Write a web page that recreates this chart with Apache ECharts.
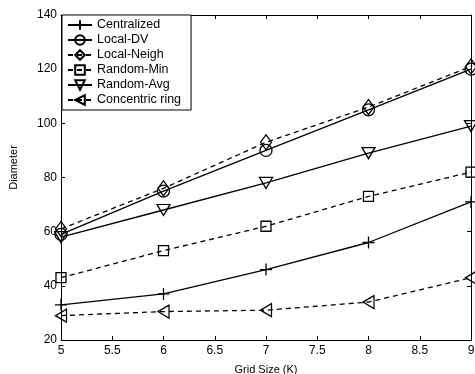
<!DOCTYPE html>
<html>
<head>
<meta charset="utf-8">
<script src="https://cdn.jsdelivr.net/npm/echarts@6/dist/echarts.min.js"></script>
<style>
  html, body { margin: 0; padding: 0; background: #fff; }
  #chart { width: 475px; height: 374px; }
</style>
</head>
<body>
<div id="chart"></div>
<script>
// Grid sizes (K)
const gridSizes = [5, 6, 7, 8, 9];

// Diameter per method
const centralized = [33, 37, 46, 56, 71];
const localDV = [59, 75, 90, 105, 120];
const localNeigh = [61, 76, 93, 106, 121];
const randomMin = [43, 53, 62, 73, 82];
const randomAvg = [58, 68, 78, 89, 99];
const concentricRing = [29, 30.5, 31, 34, 43];

const FONT = "Liberation Sans, Arial, sans-serif";

const symbols = {
  plus: "path://M5,0L5,10M0,5L10,5",
  diamond: "path://M5,0L10,7L5,14L0,7Z",
  triDown: "path://M0,0L12,0L6,10Z",
  triLeft: "path://M10,0L10,12L0,6Z",
};

function mkSeries(name, values, symbol, size, dashed) {
  return {
    name: name,
    type: "line",
    data: gridSizes.map((x, i) => [x, values[i]]),
    symbol: symbol,
    symbolSize: size,
    lineStyle: { color: "#000", width: 1.3, type: dashed ? [5, 4] : "solid" },
    itemStyle: { color: "transparent", borderColor: "#000", borderWidth: 1.3 },
    emphasis: { disabled: true },
    animation: false,
  };
}

const chart = echarts.init(document.getElementById("chart"));

const tickStyle = { inside: true, length: 4, lineStyle: { color: "#000" } };

chart.setOption({
  textStyle: { fontFamily: FONT },
  grid: { left: 61, right: 4, top: 15, bottom: 34, outerBoundsMode: "none", containLabel: false },
  legend: {
    orient: "vertical",
    left: 62,
    top: 15,
    backgroundColor: "#fff",
    borderColor: "#000",
    borderWidth: 1,
    borderRadius: 0,
    padding: [3, 10, 3, 5],
    itemGap: 1,
    itemWidth: 24,
    itemHeight: 12,
    textStyle: { fontFamily: FONT, fontSize: 12.5, color: "#000", lineHeight: 14 },
    data: ["Centralized", "Local-DV", "Local-Neigh", "Random-Min", "Random-Avg", "Concentric ring"],
  },
  xAxis: [
    {
      type: "value",
      min: 5,
      max: 9,
      interval: 0.5,
      name: "Grid Size (K)",
      nameLocation: "middle",
      nameGap: 24,
      nameTextStyle: { fontFamily: FONT, fontSize: 11, color: "#000" },
      axisLine: { lineStyle: { color: "#000", width: 1 } },
      axisTick: tickStyle,
      axisLabel: { fontFamily: FONT, fontSize: 12, color: "#000", margin: 5 },
      splitLine: { show: false },
    },
    {
      type: "value",
      position: "top",
      min: 5,
      max: 9,
      interval: 0.5,
      axisLine: { show: true, lineStyle: { color: "#000", width: 1 } },
      axisTick: tickStyle,
      axisLabel: { show: false },
      splitLine: { show: false },
    },
  ],
  yAxis: [
    {
      type: "value",
      min: 20,
      max: 140,
      interval: 20,
      name: "Diameter",
      nameLocation: "middle",
      nameGap: 42,
      nameTextStyle: { fontFamily: FONT, fontSize: 11, color: "#000", padding: [0, 0, 0, 20] },
      axisLine: { show: true, lineStyle: { color: "#000", width: 1 } },
      axisTick: tickStyle,
      axisLabel: { fontFamily: FONT, fontSize: 12, color: "#000", margin: 4 },
      splitLine: { show: false },
    },
    {
      type: "value",
      position: "right",
      min: 20,
      max: 140,
      interval: 20,
      axisLine: { show: true, lineStyle: { color: "#000", width: 1 } },
      axisTick: tickStyle,
      axisLabel: { show: false },
      splitLine: { show: false },
    },
  ],
  series: [
    mkSeries("Centralized", centralized, symbols.plus, 12, false),
    mkSeries("Local-DV", localDV, "circle", 12, false),
    mkSeries("Local-Neigh", localNeigh, symbols.diamond, [11, 15], true),
    mkSeries("Random-Min", randomMin, "rect", 10, true),
    mkSeries("Random-Avg", randomAvg, symbols.triDown, [13, 11], false),
    mkSeries("Concentric ring", concentricRing, symbols.triLeft, [11, 13], true),
  ],
});
</script>
</body>
</html>
